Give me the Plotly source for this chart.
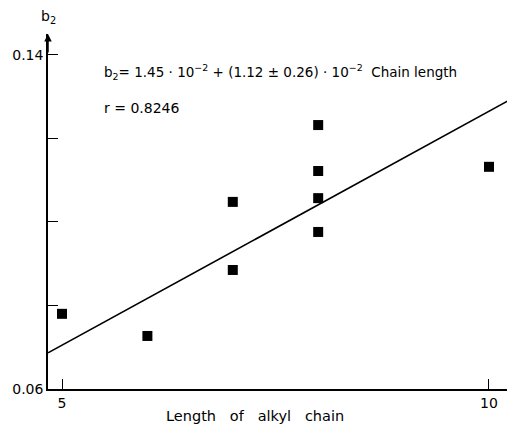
import plotly.graph_objects as go

# Data
chain_length = [5, 6, 7, 7, 8, 8, 8, 8, 10]
b2_values = [0.078, 0.0727, 0.0885, 0.1048, 0.1232, 0.1122, 0.1057, 0.0976, 0.1132]

intercept = 0.0145
slope = 0.0112
x_range = [4.836, 10.293]
y_range = [0.06, 0.145]

x_tick_vals = [5, 10]
x_tick_text = ["5", "10"]
y_tick_vals = [0.06, 0.08, 0.10, 0.12, 0.14]
y_tick_text = ["0.06", "", "", "", "0.14"]

FONT = "DejaVu Sans, sans-serif"
NB = "\u00a0"

fig = go.Figure()
fig.add_trace(go.Scatter(
    x=x_range, y=[intercept + slope * v for v in x_range],
    mode="lines", line=dict(color="black", width=1.6), showlegend=False,
))
fig.add_trace(go.Scatter(
    x=chain_length, y=b2_values, mode="markers",
    marker=dict(symbol="square", size=10, color="black"), showlegend=False,
))

fig.update_layout(
    width=507, height=425,
    margin=dict(l=40, r=1, t=26, b=44),
    paper_bgcolor="white", plot_bgcolor="white",
    font=dict(family=FONT, size=14, color="black"),
    xaxis=dict(range=x_range, tickvals=x_tick_vals, ticktext=x_tick_text,
               ticks="inside", ticklen=10, tickwidth=1.2, tickcolor="black",
               showline=True, linecolor="black", linewidth=1.5,
               showgrid=False, zeroline=False),
    yaxis=dict(range=y_range, tickvals=y_tick_vals, ticktext=y_tick_text,
               ticks="inside", ticklen=10, tickwidth=1.2, tickcolor="black",
               showline=True, linecolor="black", linewidth=1.5,
               showgrid=False, zeroline=False),
    annotations=[
        dict(x=0, y=1.0, xref="paper", yref="paper", ax=0, ay=20,
             showarrow=True, arrowhead=2, arrowsize=1, arrowwidth=1.5,
             arrowcolor="black", text=""),
        dict(x=0, y=1.0, xref="paper", yref="paper", yshift=6,
             text="b<sub>2</sub>", showarrow=False, xanchor="center",
             yanchor="bottom", font=dict(size=14)),
        dict(x=5.47, y=0.1359, xref="x", yref="y", xanchor="left",
             text="b<sub>2</sub>= 1.45 · 10<sup>−2</sup> + (1.12 ± 0.26) · 10<sup>−2</sup>" + NB * 2 + "Chain" + NB + "length",
             showarrow=False, font=dict(size=13.5)),
        dict(x=5.47, y=0.1273, xref="x", yref="y", xanchor="left",
             text="r = 0.8246", showarrow=False, font=dict(size=14)),
        dict(x=0.444, y=-0.075, xref="paper", yref="paper", xanchor="center",
             yanchor="middle",
             text="Length" + NB * 3 + "of" + NB * 3 + "alkyl" + NB * 3 + "chain",
             showarrow=False, font=dict(size=14.5)),
    ],
)

fig.write_html("out.html")
